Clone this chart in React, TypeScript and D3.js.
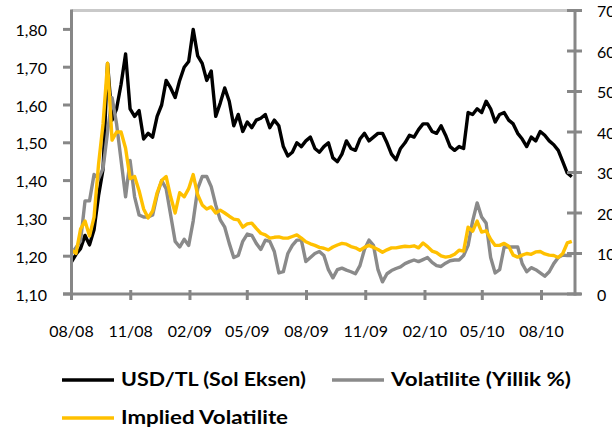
import React, { useEffect, useRef } from "react"
import * as d3 from "d3"

// weekly observations starting 1 Aug 2008
const startDate = new Date(2008, 7, 1)
const endDate = new Date(2010, 8, 22)

const usdTl: number[] = [
	1.185, 1.205, 1.22, 1.255, 1.23, 1.27, 1.36, 1.43, 1.71, 1.56,
	1.59, 1.655, 1.735, 1.59, 1.57, 1.585, 1.51, 1.525, 1.515, 1.57,
	1.6, 1.665, 1.645, 1.62, 1.665, 1.7, 1.715, 1.8, 1.73, 1.71,
	1.665, 1.69, 1.57, 1.605, 1.645, 1.61, 1.545, 1.575, 1.53, 1.555,
	1.54, 1.56, 1.565, 1.575, 1.54, 1.56, 1.545, 1.49, 1.465, 1.475,
	1.5, 1.49, 1.505, 1.515, 1.485, 1.475, 1.49, 1.5, 1.46, 1.45,
	1.47, 1.505, 1.485, 1.48, 1.51, 1.525, 1.505, 1.515, 1.525, 1.525,
	1.5, 1.47, 1.455, 1.485, 1.5, 1.52, 1.515, 1.535, 1.55, 1.55,
	1.53, 1.525, 1.545, 1.52, 1.49, 1.48, 1.49, 1.485, 1.58, 1.575,
	1.59, 1.58, 1.61, 1.59, 1.555, 1.575, 1.58, 1.56, 1.55, 1.525,
	1.51, 1.49, 1.515, 1.505, 1.53, 1.52, 1.505, 1.495, 1.48, 1.45,
	1.42, 1.41,
]

const volatility: number[] = [
	10.0, 11.5, 13.0, 23.0, 23.0, 29.5, 28.5, 31.0, 40.0, 48.5,
	42.0, 33.0, 24.0, 33.0, 24.0, 19.5, 19.0, 19.0, 19.5, 24.5,
	28.0, 26.0, 19.5, 13.0, 11.6, 13.5, 12.0, 18.0, 26.0, 29.0,
	29.0, 26.5, 22.0, 18.3, 16.5, 12.5, 9.0, 9.5, 13.0, 14.8,
	14.5, 12.5, 11.0, 13.3, 13.0, 10.5, 5.2, 5.5, 10.0, 12.0,
	13.3, 13.3, 8.0, 9.0, 10.0, 10.5, 9.5, 6.0, 4.0, 6.0,
	6.4, 5.9, 5.5, 5.0, 7.0, 11.0, 13.3, 12.0, 6.0, 3.0,
	5.0, 5.8, 6.3, 6.7, 7.5, 8.0, 8.4, 8.0, 8.5, 9.0,
	7.8, 7.0, 6.8, 7.6, 8.2, 8.4, 8.4, 9.5, 12.0, 18.0,
	22.5, 19.0, 17.5, 9.0, 5.2, 6.0, 11.6, 11.6, 11.6, 11.6,
	7.5, 5.5, 6.5, 6.0, 5.2, 4.4, 5.5, 7.5, 9.0, 9.6,
	9.5, 9.5,
]

const impliedVol: number[] = [
	10.9, 10.0, 16.0, 18.0, 14.3, 19.0, 32.0, 42.0, 57.0, 38.0,
	40.0, 40.0, 36.0, 28.5, 29.0, 25.5, 21.0, 18.8, 20.5, 25.0,
	28.0, 29.0, 24.0, 20.0, 25.0, 24.0, 26.0, 29.5, 24.5, 22.0,
	21.0, 21.5, 20.0, 20.7, 20.0, 19.2, 18.5, 18.3, 16.5, 17.3,
	17.5, 16.2, 15.0, 14.6, 13.8, 14.0, 14.1, 13.8, 13.8, 14.2,
	14.6, 13.8, 12.9, 12.4, 12.0, 11.5, 11.3, 10.9, 11.6, 12.1,
	12.5, 12.3, 11.7, 11.4, 10.8, 11.5, 12.0, 11.5, 11.0, 10.3,
	10.9, 11.4, 11.4, 11.6, 11.8, 11.7, 11.9, 11.4, 12.6, 11.7,
	10.6, 10.2, 9.4, 9.1, 9.3, 9.8, 10.8, 10.6, 16.5, 15.5,
	18.0, 15.3, 15.6, 13.5, 12.0, 12.0, 12.5, 11.8, 9.6, 9.1,
	9.6, 10.0, 9.8, 10.4, 10.5, 9.9, 9.6, 9.5, 9.0, 10.0,
	12.6, 13.0,
]

const leftTicks = [1.1, 1.2, 1.3, 1.4, 1.5, 1.6, 1.7, 1.8]
const rightTicks = [0, 10, 20, 30, 40, 50, 60, 70]
const monthTicks = [
	"2008-08", "2008-11", "2009-02", "2009-05", "2009-08",
	"2009-11", "2010-02", "2010-05", "2010-08",
]

const legendItems = [
	{ label: "USD/TL (Sol Eksen)", color: "#000000", x: 62, y: 380, w: 185 },
	{ label: "Volatilite (Yillik %)", color: "#8a8a8a", x: 332, y: 380, w: 180 },
	{ label: "Implied Volatilite", color: "#ffc000", x: 62, y: 418, w: 167 },
]

const trFormat = d3.formatLocale({
	decimal: ",",
	thousands: ".",
	grouping: [3],
	currency: ["", ""],
}).format(".2f")

const App: React.FC = () => {
	const ref = useRef<SVGSVGElement>(null)

	useEffect(() => {
		const svg = d3.select(ref.current)
		svg.selectAll("*").remove()

		const plot = { left: 71.5, right: 575, top: 10.5, bottom: 294 }
		const axisColor = "#878787"
		const font = "Lato, 'Open Sans', sans-serif"
		const parseMonth = d3.timeParse("%Y-%m")

		const x = d3.scaleTime().domain([startDate, endDate]).range([plot.left, plot.right])
		const yLeft = d3.scaleLinear().domain([1.1, 1.85]).range([plot.bottom, plot.top])
		const yRight = d3.scaleLinear().domain([0, 70]).range([plot.bottom, plot.top])

		const dates = usdTl.map((_, i) => d3.timeDay.offset(startDate, 7 * i))

		// top border
		svg.append("line")
			.attr("x1", plot.left).attr("x2", plot.right - 6)
			.attr("y1", plot.top).attr("y2", plot.top)
			.attr("stroke", "#c9c9c9").attr("stroke-width", 3)

		// series
		const lineLeft = d3.line<number>()
			.x((_, i) => x(dates[i]))
			.y((d) => yLeft(d))
		const lineRight = d3.line<number>()
			.x((_, i) => x(dates[i]))
			.y((d) => yRight(d))

		const series: [number[], d3.Line<number>, string][] = [
			[usdTl, lineLeft, "#000000"],
			[volatility, lineRight, "#8a8a8a"],
			[impliedVol, lineRight, "#ffc000"],
		]
		series.forEach(([vals, gen, color]) => {
			svg.append("path")
				.attr("d", gen(vals))
				.attr("fill", "none")
				.attr("stroke", color)
				.attr("stroke-width", 3.4)
				.attr("stroke-linejoin", "round")
		})

		// axes
		const axes = svg.append("g").attr("stroke", axisColor).attr("stroke-width", 3)
		axes.append("line")
			.attr("x1", plot.left).attr("x2", plot.left)
			.attr("y1", plot.top - 1).attr("y2", plot.bottom + 1.5)
		axes.append("line")
			.attr("x1", plot.right).attr("x2", plot.right)
			.attr("y1", plot.top - 1.5).attr("y2", plot.bottom + 1.5)
		axes.append("line")
			.attr("x1", 63).attr("x2", 581)
			.attr("y1", plot.bottom).attr("y2", plot.bottom)

		axes.selectAll(".lt").data(leftTicks).join("line")
			.attr("x1", 63).attr("x2", plot.left)
			.attr("y1", (d) => yLeft(d)).attr("y2", (d) => yLeft(d))
		axes.selectAll(".rt").data(rightTicks).join("line")
			.attr("x1", 567).attr("x2", 582)
			.attr("y1", (d) => yRight(d)).attr("y2", (d) => yRight(d))
		axes.selectAll(".bt").data(monthTicks).join("line")
			.attr("x1", (d) => x(parseMonth(d)!))
			.attr("x2", (d) => x(parseMonth(d)!))
			.attr("y1", plot.bottom - 4).attr("y2", plot.bottom + 6)

		const labels = svg.append("g")
			.attr("font-family", font)
			.attr("font-size", 16)
			.attr("fill", "#000")

		labels.selectAll(".ll").data(leftTicks).join("text")
			.attr("x", 47).attr("y", (d) => yLeft(d))
			.attr("text-anchor", "end").attr("dominant-baseline", "central")
			.text((d) => trFormat(d))
		labels.selectAll(".rl").data(rightTicks).join("text")
			.attr("x", 597).attr("y", (d) => yRight(d))
			.attr("dominant-baseline", "central")
			.text((d) => String(d))
		labels.selectAll(".bl").data(monthTicks).join("text")
			.attr("x", (d) => x(parseMonth(d)!))
			.attr("y", 330)
			.attr("text-anchor", "middle").attr("dominant-baseline", "central")
			.text((d) => d3.timeFormat("%m/%y")(parseMonth(d)!))

		// legend
		const legend = svg.append("g")
		legendItems.forEach((item) => {
			legend.append("line")
				.attr("x1", item.x).attr("x2", item.x + 52)
				.attr("y1", item.y).attr("y2", item.y)
				.attr("stroke", item.color).attr("stroke-width", 3.5)
			legend.append("text")
				.attr("x", item.x + 59).attr("y", item.y - 1)
				.attr("dominant-baseline", "central")
				.attr("font-family", font).attr("font-weight", "bold")
				.attr("font-size", 18)
				.attr("textLength", item.w).attr("lengthAdjust", "spacingAndGlyphs")
				.text(item.label)
		})
	}, [])

	return (
		<svg
			ref={ref}
			width={612}
			height={432}
			style={{ position: "absolute", left: 0, top: 0, background: "#fff" }}
		/>
	)
}

export default App
